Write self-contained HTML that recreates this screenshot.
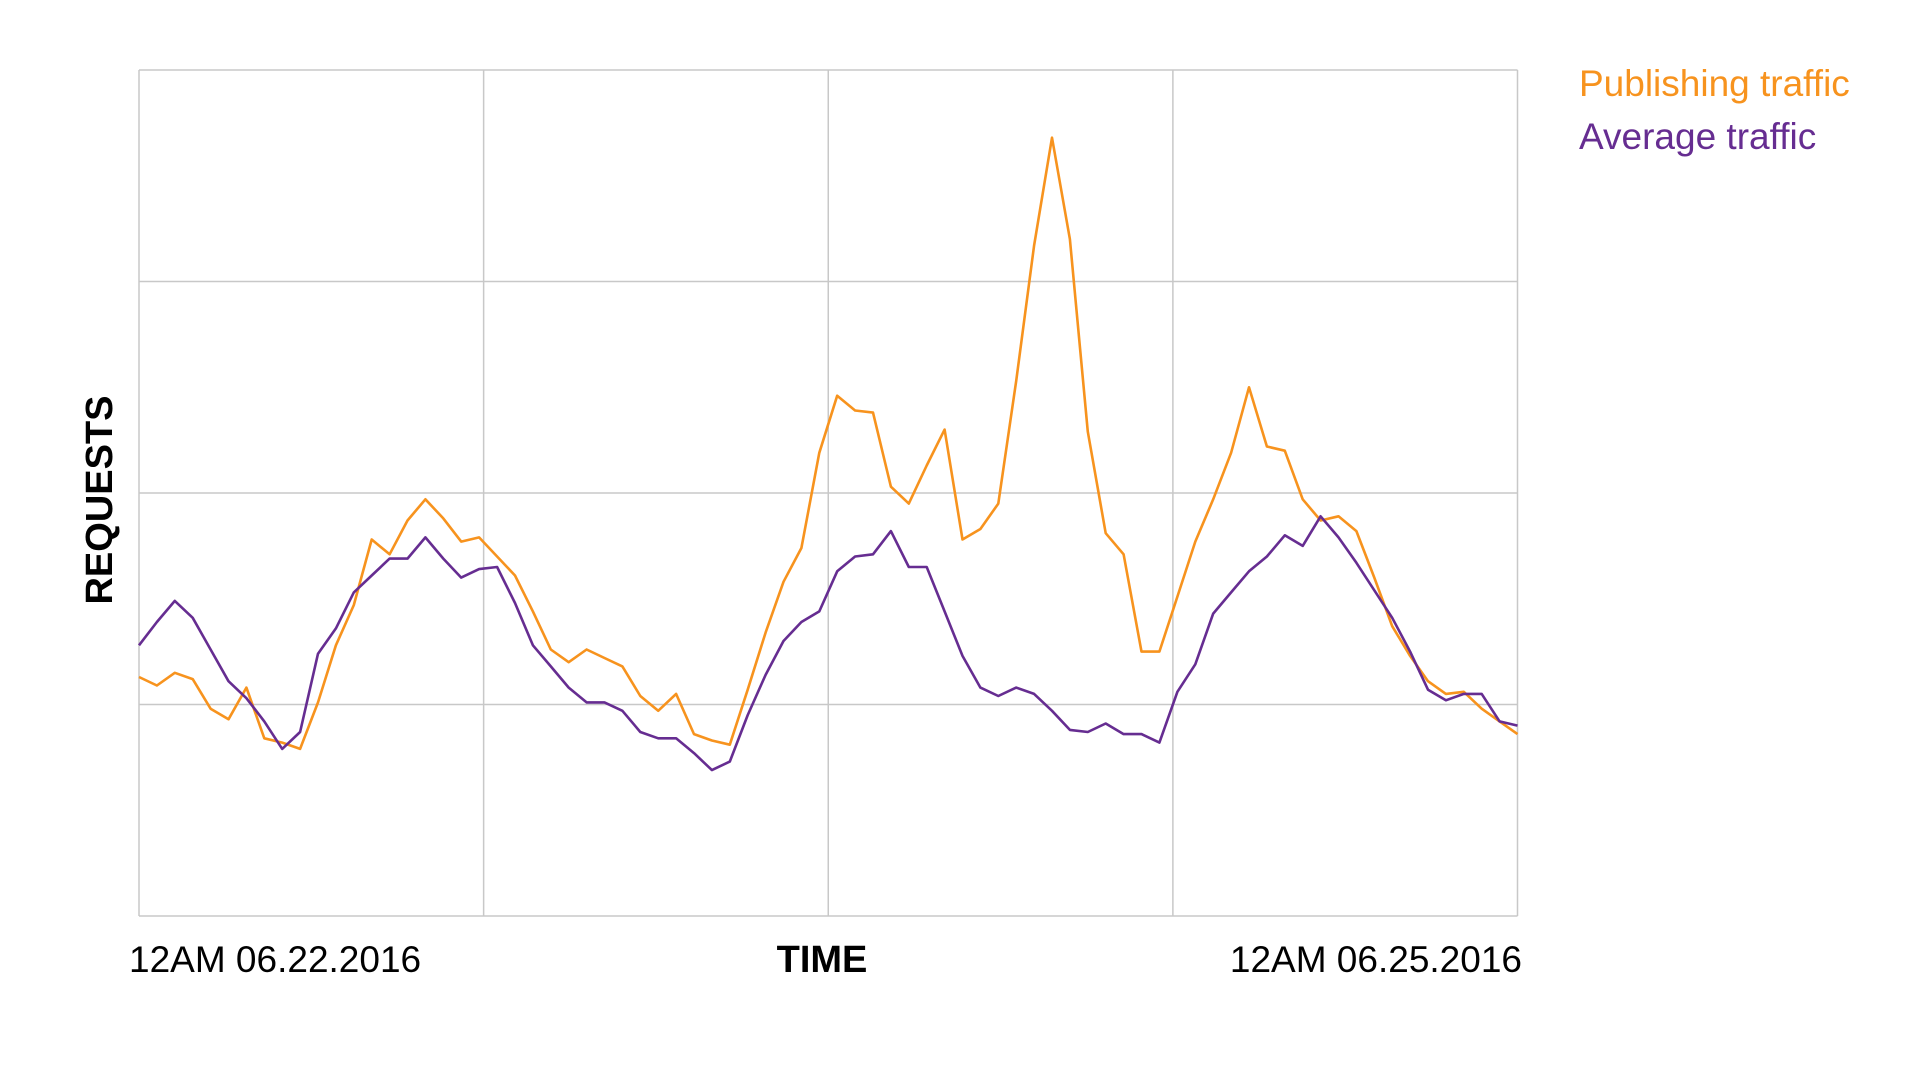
<!DOCTYPE html>
<html><head><meta charset="utf-8"><style>
html,body{margin:0;padding:0;background:#fff;width:1920px;height:1080px;overflow:hidden}
text{font-family:"Liberation Sans",Helvetica,Arial,sans-serif}
</style></head><body>
<svg id="chart" width="1920" height="1080" viewBox="0 0 1920 1080" xmlns="http://www.w3.org/2000/svg">
<g id="grid"></g>
<g id="series"></g>
<text x="0" y="0" transform="translate(112,500) rotate(-90)" text-anchor="middle" font-size="38" font-weight="bold" fill="#000">REQUESTS</text>
<text x="822" y="972" text-anchor="middle" font-size="38" font-weight="bold" fill="#000">TIME</text>
<text x="129" y="972" font-size="37" fill="#000">12AM 06.22.2016</text>
<text x="1522" y="972" text-anchor="end" font-size="37" fill="#000">12AM 06.25.2016</text>
<text x="1579" y="96" font-size="37" fill="#f7931e">Publishing traffic</text>
<text x="1579" y="149" font-size="37" fill="#662d91">Average traffic</text>
</svg>
<script>
const publishing = [113,109,115,112,98,93,108,84,82,79,101,128,147,178,171,187,197,188,177,179,170,161,144,126,120,126,122,118,104,97,105,86,83,81,107,134,158,174,219,246,239,238,203,195,213,230,178,183,195,253,317,368,320,229,181,171,125,125,151,177,197,219,250,222,220,197,187,189,182,160,137,123,111,105,106,98,92,86];
const average = [128,139,149,141,126,111,103,92,79,87,124,136,153,161,169,169,179,169,160,164,165,148,128,118,108,101,101,97,87,84,84,77,69,73,95,114,130,139,144,163,170,171,182,165,165,144,123,108,104,108,105,97,88,87,91,86,86,82,106,119,143,153,163,170,180,175,189,179,167,154,141,125,107,102,105,105,92,90];
const yTicks = [0,100,200,300,400];
const xTicks = [0,1,2,3,4];
const NS='http://www.w3.org/2000/svg';
const L=139,R=1517.5,T=70,B=916;
const yMax=400;
function xs(i){return L+(R-L)*i/(publishing.length-1);}
function ys(v){return B-(B-T)*v/yMax;}
function xg(k){return L+(R-L)*k/(xTicks.length-1);}
const grid=document.getElementById('grid');
yTicks.forEach(function(t){
  const ln=document.createElementNS(NS,'line');
  
  
  ln.setAttribute('x1',L);ln.setAttribute('x2',R);
  ln.setAttribute('y1',ys(t));ln.setAttribute('y2',ys(t));
  ln.setAttribute('stroke','#c8c8c8');ln.setAttribute('stroke-width','1.5');
  grid.appendChild(ln);
});
xTicks.forEach(function(k){
  const ln=document.createElementNS(NS,'line');
  
  
  ln.setAttribute('x1',xg(k));ln.setAttribute('x2',xg(k));
  ln.setAttribute('y1',T);ln.setAttribute('y2',B);
  ln.setAttribute('stroke','#c8c8c8');ln.setAttribute('stroke-width','1.5');
  grid.appendChild(ln);
});
const series=document.getElementById('series');
function draw(arr,color,name){
  const p=document.createElementNS(NS,'polyline');
  
  
  p.setAttribute('points',arr.map(function(v,i){return xs(i).toFixed(1)+','+ys(v).toFixed(1);}).join(' '));
  p.setAttribute('fill','none');p.setAttribute('stroke',color);
  p.setAttribute('stroke-width','2.6');p.setAttribute('stroke-linejoin','round');
  series.appendChild(p);
}
draw(publishing,'#f7931e','publishing-traffic-line');
draw(average,'#662d91','average-traffic-line');
</script>
</body></html>
